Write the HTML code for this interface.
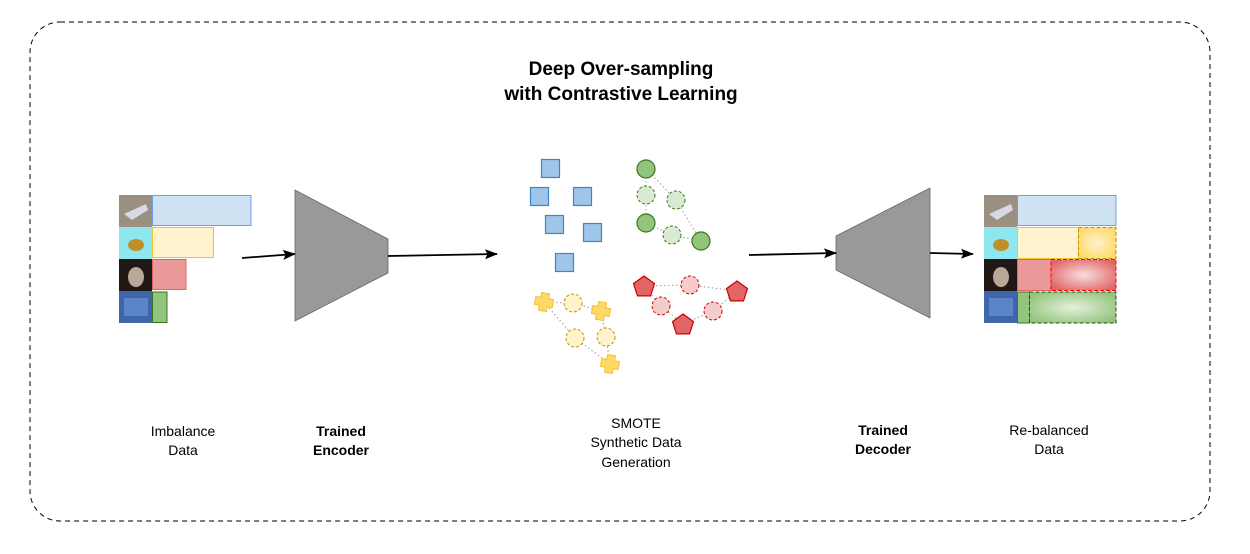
<!DOCTYPE html>
<html><head><meta charset="utf-8"><style>
html,body{margin:0;padding:0;background:#fff;}
svg{display:block;font-family:"Liberation Sans",Arial,sans-serif;}
</style></head><body>
<svg width="1250" height="554" viewBox="0 0 1250 554" xmlns="http://www.w3.org/2000/svg">
<defs>
<marker id="ar" markerWidth="13" markerHeight="10" refX="12" refY="5" orient="auto" markerUnits="userSpaceOnUse"><path d="M0,0 L13,5 L0,10 L2.5,5 Z" fill="#000"/></marker>
<radialGradient id="gy" cx="50%" cy="50%" r="60%"><stop offset="0" stop-color="#fff2cc"/><stop offset="1" stop-color="#ffd966"/></radialGradient>
<radialGradient id="gr" cx="50%" cy="50%" r="60%"><stop offset="0" stop-color="#f8dede"/><stop offset="1" stop-color="#e06666"/></radialGradient>
<radialGradient id="gg" cx="50%" cy="50%" r="60%"><stop offset="0" stop-color="#e4f0dc"/><stop offset="1" stop-color="#93c47d"/></radialGradient>
<g id="cross"><path d="M-4,-9 H4 V-4 H9 V4 H4 V9 H-4 V4 H-9 V-4 H-4 Z" fill="#ffd966" stroke="#f1c232" stroke-width="1" transform="rotate(10)"/></g>
<g id="pent"><polygon points="0,-11 10.5,-3.4 6.5,8.9 -6.5,8.9 -10.5,-3.4" fill="#e06666" stroke="#cc0000" stroke-width="1.2"/></g>
</defs>
<rect x="30" y="22" width="1180" height="499" rx="30" fill="none" stroke="#000" stroke-dasharray="5,4" stroke-width="1"/>
<text x="621" y="75" font-size="19" font-weight="bold" text-anchor="middle">Deep Over-sampling</text>
<text x="621" y="100" font-size="19" font-weight="bold" text-anchor="middle">with Contrastive Learning</text>

<rect x="119" y="195" width="33" height="32" fill="#9a8f80"/>
<path d="M124,214 L146,204 L148,210 L132,220 Z" fill="#d9d9e6"/>
<rect x="119" y="227" width="33" height="32" fill="#8ee6ee"/>
<ellipse cx="136" cy="245" rx="8" ry="6" fill="#c09028"/>
<rect x="119" y="259" width="33" height="32" fill="#201815"/>
<ellipse cx="136" cy="277" rx="8" ry="10" fill="#b8a898"/>
<rect x="119" y="291" width="33" height="32" fill="#3e66a8"/>
<rect x="124" y="298" width="24" height="18" fill="#5a86c8"/>
<rect x="152.5" y="195.5" width="98.5" height="30" fill="#cfe2f3" stroke="#6d9eeb"/>
<rect x="152.5" y="227.5" width="61" height="30" fill="#fff2cc" stroke="#f1c232"/>
<rect x="152.5" y="259.5" width="33.5" height="30" fill="#ea9999" stroke="#e06666"/>
<rect x="152.5" y="292" width="14.5" height="30.5" fill="#93c47d" stroke="#38761d"/>

<rect x="984" y="195" width="33" height="32" fill="#9a8f80"/>
<path d="M989,214 L1011,204 L1013,210 L997,220 Z" fill="#d9d9e6"/>
<rect x="984" y="227" width="33" height="32" fill="#8ee6ee"/>
<ellipse cx="1001" cy="245" rx="8" ry="6" fill="#c09028"/>
<rect x="984" y="259" width="33" height="32" fill="#201815"/>
<ellipse cx="1001" cy="277" rx="8" ry="10" fill="#b8a898"/>
<rect x="984" y="291" width="33" height="32" fill="#3e66a8"/>
<rect x="989" y="298" width="24" height="18" fill="#5a86c8"/>
<rect x="1017.5" y="195.5" width="98.5" height="30" fill="#cfe2f3" stroke="#6d9eeb"/>
<rect x="1017.5" y="227.5" width="61" height="31" fill="#fff2cc" stroke="#f1c232"/>
<rect x="1078.5" y="227.5" width="37.5" height="31" fill="url(#gy)" stroke="#bf9000" stroke-dasharray="4,2"/>
<rect x="1017.5" y="259.5" width="33.5" height="31" fill="#ea9999" stroke="#e06666"/>
<rect x="1051" y="259.5" width="65" height="31" fill="url(#gr)" stroke="#ff0000" stroke-dasharray="4,2"/>
<rect x="1017.5" y="292" width="12" height="31" fill="#93c47d" stroke="#38761d"/>
<rect x="1029.5" y="292" width="86.5" height="31" fill="url(#gg)" stroke="#274e13" stroke-dasharray="4,2"/>

<polygon points="295,190 388,239 388,273 295,321" fill="#999" stroke="#666" stroke-width="0.8"/>
<polygon points="836,236 930,188 930,318 836,270" fill="#999" stroke="#666" stroke-width="0.8"/>

<g stroke="#000" stroke-width="1.8" fill="none" marker-end="url(#ar)">
<line x1="242" y1="258" x2="295" y2="254"/>
<line x1="388" y1="256" x2="497" y2="254"/>
<line x1="749" y1="255" x2="836" y2="253"/>
<line x1="930" y1="253" x2="973" y2="254"/>
</g>

<g stroke="#aaa" stroke-width="1.2" stroke-dasharray="1.5,2.5" fill="none">
<polyline points="646,169 646,195 646,223"/>
<polyline points="646,169 676,200 701,241"/>
<polyline points="646,223 672,235 701,241"/>
<polyline points="644,286 690,285 737,291"/>
<polyline points="644,286 661,306 683,324"/>
<polyline points="683,324 713,311 737,291"/>
<polyline points="544,302 573,303 601,311"/>
<polyline points="544,302 575,338 610,364"/>
<polyline points="601,311 606,337 610,364"/>
</g>

<g fill="#9fc5e8" stroke="#3d85c6" stroke-width="1.2">
<rect x="541.5" y="159.5" width="18" height="18"/>
<rect x="530.5" y="187.5" width="18" height="18"/>
<rect x="573.5" y="187.5" width="18" height="18"/>
<rect x="545.5" y="215.5" width="18" height="18"/>
<rect x="583.5" y="223.5" width="18" height="18"/>
<rect x="555.5" y="253.5" width="18" height="18"/>
</g>
<g fill="#93c47d" stroke="#38761d" stroke-width="1.2">
<circle cx="646" cy="169" r="9"/><circle cx="646" cy="223" r="9"/><circle cx="701" cy="241" r="9"/>
</g>
<g fill="#d9ead3" stroke="#38761d" stroke-width="1" stroke-dasharray="3,2">
<circle cx="646" cy="195" r="9"/><circle cx="676" cy="200" r="9"/><circle cx="672" cy="235" r="9"/>
</g>
<use href="#pent" x="644" y="287"/><use href="#pent" x="737" y="292"/><use href="#pent" x="683" y="325"/>
<g fill="#f4cccc" stroke="#cc0000" stroke-width="1" stroke-dasharray="3,2">
<circle cx="690" cy="285" r="9"/><circle cx="661" cy="306" r="9"/><circle cx="713" cy="311" r="9"/>
</g>
<use href="#cross" x="544" y="302"/><use href="#cross" x="601" y="311"/><use href="#cross" x="610" y="364"/>
<g fill="#fff2cc" stroke="#bf9000" stroke-width="1" stroke-dasharray="3,2">
<circle cx="573" cy="303" r="9"/><circle cx="575" cy="338" r="9"/><circle cx="606" cy="337" r="9"/>
</g>

<g font-size="14" text-anchor="middle" fill="#000">
<text x="183" y="436">Imbalance</text><text x="183" y="455">Data</text>
<text x="341" y="436" font-weight="bold">Trained</text><text x="341" y="455" font-weight="bold">Encoder</text>
<text x="636" y="428">SMOTE</text><text x="636" y="447">Synthetic Data</text><text x="636" y="467">Generation</text>
<text x="883" y="435" font-weight="bold">Trained</text><text x="883" y="454" font-weight="bold">Decoder</text>
<text x="1049" y="435">Re-balanced</text><text x="1049" y="454">Data</text>
</g>
</svg>
</body></html>
